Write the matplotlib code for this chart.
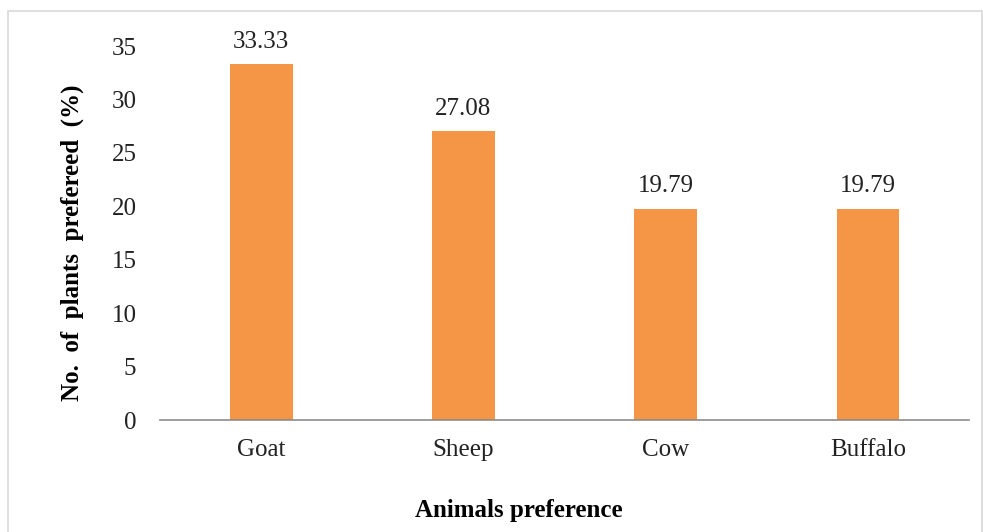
import matplotlib
matplotlib.use("Agg")
import matplotlib.pyplot as plt
from matplotlib.patches import Rectangle

animals = ["Goat", "Sheep", "Cow", "Buffalo"]
percent = [33.33, 27.08, 19.79, 19.79]
yticks = [0, 5, 10, 15, 20, 25, 30, 35]

plt.rcParams["font.family"] = ["Liberation Serif", "DejaVu Serif"]

fig = plt.figure(figsize=(9.83, 5.32), dpi=100)
ax = fig.add_axes([0.1628, 0.2105, 0.8230, 0.7030])

x = range(len(animals))
bars = ax.bar(x, percent, width=0.31, color="#F59646", edgecolor="none")
ax.bar_label(bars, labels=[f"{v:.2f}" for v in percent], padding=8,
             fontsize=18, color="#222222")

ax.set_xlim(-0.5, len(animals) - 0.5)
ax.set_ylim(0, 35)
ax.set_yticks(yticks)
ax.set_xticks(list(x))
ax.set_xticklabels(animals)
ax.tick_params(axis="both", length=0, labelsize=18, colors="#222222")
ax.tick_params(axis="y", pad=17)
ax.tick_params(axis="x", pad=14)

for side in ["top", "right", "left"]:
    ax.spines[side].set_visible(False)
ax.spines["bottom"].set_color("#8c8c8c")
ax.spines["bottom"].set_linewidth(1.2)

ax.set_ylabel("No.  of  plants  prefereed  (%)", fontsize=18, fontweight="bold")
ax.yaxis.set_label_coords(-0.094, 0.473)
fig.text(519 / 983, 22 / 532, "Animals preference", ha="center", va="center",
         fontsize=18, fontweight="bold")

# light frame around the chart area
fig.patches.append(Rectangle((8 / 983, -0.05), 974 / 983, 1.05 - 11 / 532,
                             transform=fig.transFigure, fill=False,
                             edgecolor="#d9d9d9", linewidth=1.2))

fig.savefig("out.png", dpi=100)
